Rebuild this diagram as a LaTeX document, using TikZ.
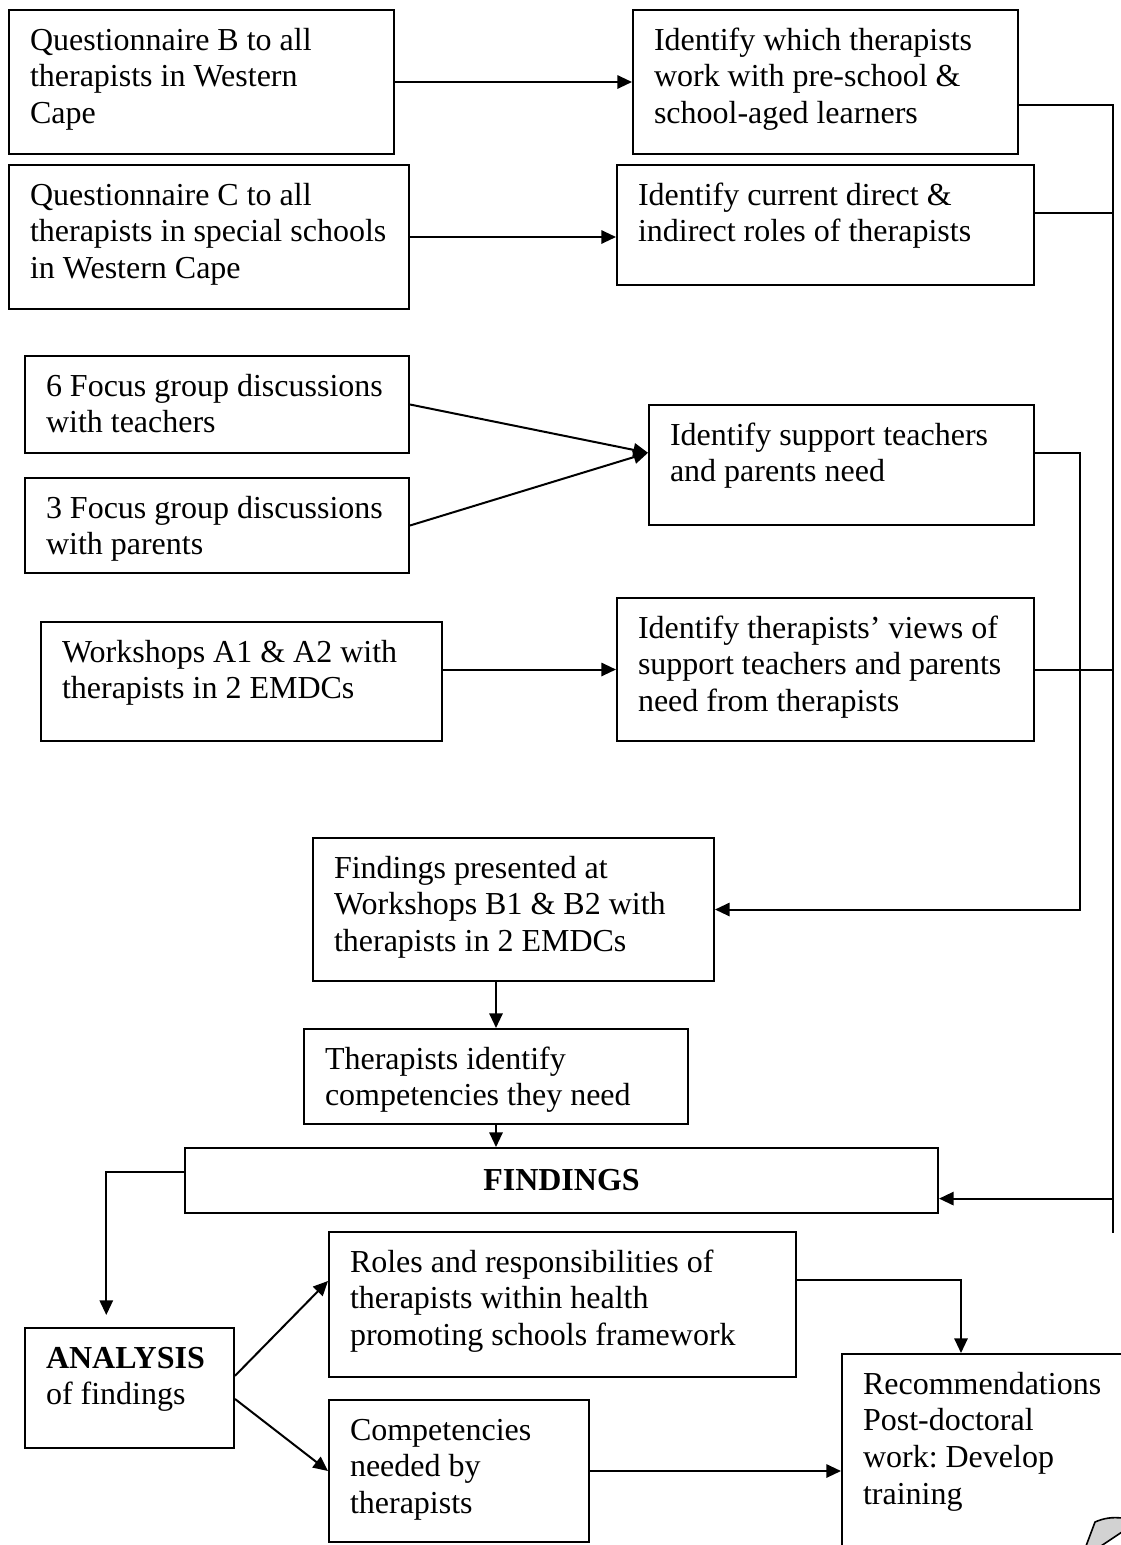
\documentclass[tikz,border=0pt]{standalone}
\usepackage{fontspec}
\setmainfont{Liberation Serif}
\usetikzlibrary{arrows.meta,positioning,calc}
\newdimen\pxu \pxu=0.375pt
\newcommand\boxtext[3]{\parbox[t][#2\pxu][t]{#1\pxu}{\raggedright\leftskip=21\pxu\rule{0pt}{40\pxu}#3}}
\frenchspacing

\begin{document}
\begin{tikzpicture}[x=0.375pt,y=-0.375pt,font=\fontsize{12}{13.8}\selectfont,
  box/.style={draw,line width=0.75pt,anchor=north west,inner sep=0pt},
  wire/.style={line width=0.75pt},
  arr/.style={wire,-{Triangle[length=5.5pt,width=5pt]}}]
\useasboundingbox (0,0) rectangle (1121,1545);
\clip (0,0) rectangle (1121,1545);
% questionnaires
\node[box] (qb) at (8,9) {\boxtext{385}{144}{Questionnaire B to all\\therapists in Western\\Cape}};
\node[box] (qc) at (8,164) {\boxtext{400}{144}{Questionnaire C to all\\therapists in special schools\\in Western Cape}};
\node[box] (iw) at (632,9) {\boxtext{385}{144}{Identify which therapists\\work with pre-school \&\\school-aged learners}};
\node[box] (ic) at (616,164) {\boxtext{417}{120}{Identify current direct \&\\indirect roles of therapists}};
% focus groups, workshops A
\node[box] (ft) at (24,355) {\boxtext{384}{97}{6 Focus group discussions\\with teachers}};
\node[box] (fpa) at (24,477) {\boxtext{384}{95}{3 Focus group discussions\\with parents}};
\node[box] (isp) at (648,404) {\boxtext{385}{120}{Identify support teachers\\and parents need}};
\node[box] (wsa) at (40,621) {\boxtext{401}{119}{Workshops A1 \& A2 with\\therapists in 2 EMDCs}};
\node[box] (itv) at (616,597) {\boxtext{417}{143}{Identify therapists' views of\\support teachers and parents\\need from therapists}};
% workshops B, findings
\node[box] (fpr) at (312,837) {\boxtext{401}{143}{Findings presented at\\Workshops B1 \& B2 with\\therapists in 2 EMDCs}};
\node[box] (tid) at (303,1028) {\boxtext{384}{95}{Therapists identify\\competencies they need}};
\node[box,minimum width=753\pxu,minimum height=65\pxu] (fnd) at (184,1147) {\textbf{FINDINGS}};
% analysis, outcomes
\node[box] (ana) at (24,1327) {\boxtext{209}{120}{\textbf{ANALYSIS}\\of findings}};
\node[box] (rol) at (328,1231) {\boxtext{467}{145}{Roles and responsibilities of\\therapists within health\\promoting schools framework}};
\node[box] (cmp) at (328,1399) {\boxtext{260}{142}{Competencies\\needed by\\therapists}};
\node[box] (rec) at (841,1353) {\boxtext{320}{260}{Recommendations\\Post-doctoral\\work: Develop\\training}};

% bus lines on the right
\coordinate (busR) at (1113,0);
\coordinate (busM) at (1080,0);
\coordinate (busEnd) at (1113,1233);
\coordinate (iwout) at ($(iw.north east)!0.66!(iw.south east)$);
\coordinate (icout) at ($(ic.north east)!0.4!(ic.south east)$);
\coordinate (ispin) at ($(isp.north west)!0.4!(isp.south west)$);
\coordinate (ispout) at ($(isp.north east)!0.4!(isp.south east)$);
\coordinate (fndin) at ($(fnd.north east)!0.77!(fnd.south east)$);
\coordinate (fndout) at ($(fnd.north west)!0.38!(fnd.south west)$);
\coordinate (anain) at ($(ana.north west)!0.39!(ana.north east)$);
\coordinate (recin) at ($(rec.north west)+(120,0)$);

\draw[arr] (qb) -- (iw);
\draw[arr] (qc.east) -- (qc.east -| ic.west);
\draw[arr] (ft.east) -- (ispin);
\draw[arr] (fpa.east) -- (ispin);
\draw[arr] (itv.west -| wsa.east) -- (itv.west);
\draw[wire] (iwout) -| (busEnd);
\draw[wire] (icout) -- (icout -| busR);
\draw[wire] (itv.east) -- (itv.east -| busR);
\draw[arr] (fndin -| busR) -- (fndin);
\draw[arr] (ispout) -- (ispout -| busM) |- (fpr.east);
\draw[arr] (tid.north |- fpr.south) -- (tid.north);
\draw[arr] (tid.south) -- (tid.south |- fnd.north);
\draw[arr,shorten >=4.5pt] (fndout) -| (anain);
\draw[arr] ($(ana.north east)!0.4!(ana.south east)$) -- ($(rol.north west)!0.34!(rol.south west)$);
\draw[arr] ($(ana.north east)!0.59!(ana.south east)$) -- (cmp.west);
\draw[arr] (cmp.east) -- (cmp.east -| rec.west);
\draw[arr] ($(rol.north east)!0.33!(rol.south east)$) -| (recin);
% page curl
\filldraw[fill=gray!35,line width=0.6pt] (1086,1546) -- (1095,1522) .. controls (1104,1518) and (1112,1517) .. (1122,1518) -- (1122,1532) -- (1101,1546);
\end{tikzpicture}
\end{document}
